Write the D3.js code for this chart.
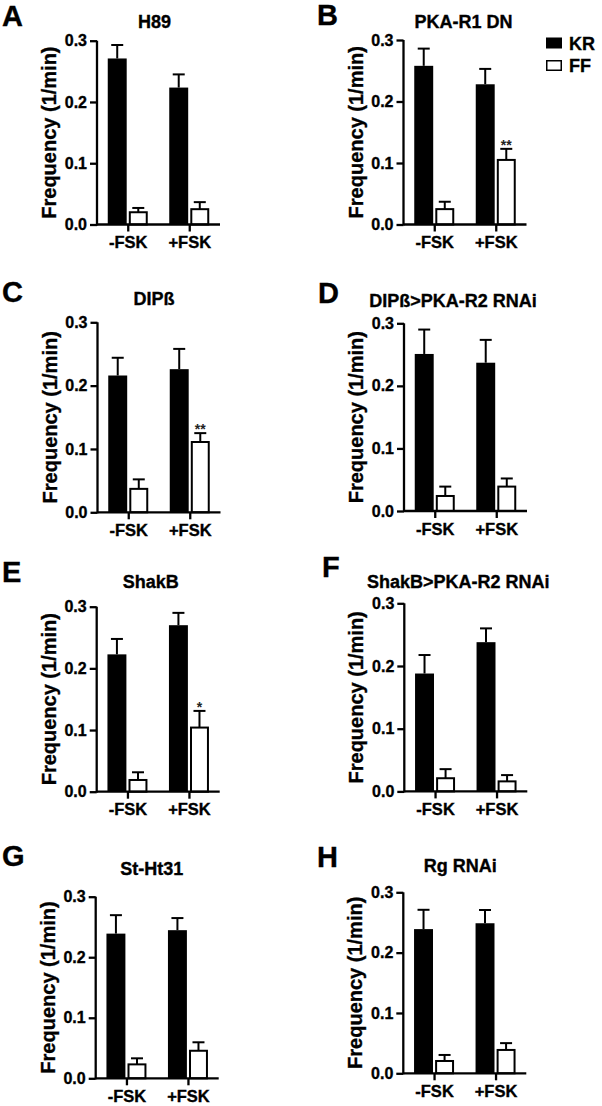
<!DOCTYPE html>
<html>
<head>
<meta charset="utf-8">
<script src="https://cdn.jsdelivr.net/npm/d3@7"></script>
<style>
  body { margin: 0; background: #fff; }
  text { font-family: "Liberation Sans", Arial, sans-serif; font-weight: bold; fill: #000; stroke: #000; stroke-width: 0.35px; }
</style>
</head>
<body>
<div class="visualization"></div>
<script>
// data
const letters = ["A", "B", "C", "D", "E", "F", "G", "H"];
const titles = ["H89", "PKA-R1 DN", "DIPß", "DIPß>PKA-R2 RNAi", "ShakB", "ShakB>PKA-R2 RNAi", "St-Ht31", "Rg RNAi"];
const conditions = ["-FSK", "+FSK"];
const genotypes = ["KR", "FF"];
const yTicks = [0, 0.1, 0.2, 0.3];

const krMean = [[0.271, 0.2235], [0.258, 0.228], [0.216, 0.226], [0.251, 0.237],
                [0.2227, 0.270], [0.188, 0.238], [0.239, 0.2447], [0.239, 0.2487]];
const krErr  = [[0.022, 0.0215], [0.028, 0.025], [0.028, 0.032], [0.039, 0.0365],
                [0.025, 0.020], [0.0295, 0.022], [0.0305, 0.020], [0.032, 0.022]];
const ffMean = [[0.020, 0.025], [0.025, 0.105], [0.037, 0.111], [0.024, 0.039],
                [0.019, 0.104], [0.021, 0.016], [0.023, 0.0455], [0.0204, 0.0387]];
const ffErr  = [[0.007, 0.0115], [0.012, 0.018], [0.015, 0.014], [0.015, 0.013],
                [0.0125, 0.027], [0.0145, 0.010], [0.010, 0.014], [0.010, 0.0113]];
// significance marks on the FF +FSK bar
const ffSig = [["", ""], ["", "**"], ["", "**"], ["", ""], ["", "*"], ["", ""], ["", ""], ["", ""]];

// panel placement (pixels)
const layout = [
  {ax: 97,    y0: 224.5,  y3: 40.7,  titleDx: 57.5, titleY: 28.3,  letterX: 2,   letterY: 26},
  {ax: 403.5, y0: 224.5,  y3: 40,    titleDx: 60,   titleY: 28.3,  letterX: 317, letterY: 25},
  {ax: 97.5,  y0: 512.3,  y3: 322.3, titleDx: 56.5, titleY: 305,   letterX: 2,   letterY: 301.5},
  {ax: 404,   y0: 511,    y3: 323.3, titleDx: 49,   titleY: 306.7, letterX: 318, letterY: 303},
  {ax: 96.7,  y0: 791.7,  y3: 606.7, titleDx: 54,   titleY: 588,   letterX: 2,   letterY: 582},
  {ax: 404.3, y0: 791.4,  y3: 603.3, titleDx: 54,   titleY: 588,   letterX: 322, letterY: 577},
  {ax: 95.7,  y0: 1078.3, y3: 896.7, titleDx: 56,   titleY: 875,   letterX: 2,   letterY: 866},
  {ax: 403.3, y0: 1073.3, y3: 892.3, titleDx: 57,   titleY: 871.7, letterX: 317, letterY: 867}
];

const width = 602;
const height = 1106;

const svg = d3.select(".visualization")
  .append("svg")
  .attr("width", width)
  .attr("height", height);

const x = d3.scalePoint().domain(conditions).range([0, 123]).padding(0.5);
const xInner = d3.scaleBand().domain(genotypes).range([-20, 20]).paddingInner(0.1);

letters.forEach((letter, i) => {
  const L = layout[i];
  const y = d3.scaleLinear().domain([0, 0.3]).range([L.y0, L.y3]);

  const g = svg.append("g").attr("transform", `translate(${L.ax},0)`);

  svg.append("text")
    .attr("x", L.letterX)
    .attr("y", L.letterY)
    .style("font-size", "29px")
    .text(letter);

  g.append("text")
    .attr("x", L.titleDx)
    .attr("y", L.titleY)
    .attr("text-anchor", "middle")
    .style("font-size", "18px")
    .text(titles[i]);

  // bars
  const rows = [];
  conditions.forEach((c, j) => {
    rows.push({cond: c, geno: "KR", mean: krMean[i][j], err: krErr[i][j], sig: ""});
    rows.push({cond: c, geno: "FF", mean: ffMean[i][j], err: ffErr[i][j], sig: ffSig[i][j]});
  });

  const bar = g.selectAll(".bar")
    .data(rows)
    .enter()
    .append("g")
    .attr("transform", d => `translate(${x(d.cond) + xInner(d.geno)},0)`);

  // error bars first so the bar outline covers the stem base
  bar.append("line")
    .attr("x1", xInner.bandwidth() / 2)
    .attr("x2", xInner.bandwidth() / 2)
    .attr("y1", d => y(d.mean))
    .attr("y2", d => y(d.mean + d.err))
    .attr("stroke", "#000")
    .attr("stroke-width", 2);
  bar.append("line")
    .attr("x1", xInner.bandwidth() / 2 - 6)
    .attr("x2", xInner.bandwidth() / 2 + 6)
    .attr("y1", d => y(d.mean + d.err))
    .attr("y2", d => y(d.mean + d.err))
    .attr("stroke", "#000")
    .attr("stroke-width", 2);

  bar.append("rect")
    .attr("x", d => d.geno === "FF" ? 1 : 0)
    .attr("width", d => d.geno === "FF" ? xInner.bandwidth() - 2 : xInner.bandwidth())
    .attr("y", d => y(d.mean))
    .attr("height", d => L.y0 - y(d.mean))
    .attr("fill", d => d.geno === "KR" ? "#000" : "#fff")
    .attr("stroke", d => d.geno === "FF" ? "#000" : "none")
    .attr("stroke-width", 2);

  bar.filter(d => d.sig)
    .append("text")
    .attr("x", xInner.bandwidth() / 2)
    .attr("y", d => y(d.mean + d.err) + 1)
    .attr("text-anchor", "middle")
    .style("font-size", "14px")
    .style("fill", "#222")
    .style("stroke", "none")
    .text(d => d.sig);

  // axes
  const yAxis = g.append("g")
    .call(d3.axisLeft(y).tickValues(yTicks).tickFormat(d3.format(".1f")).tickSize(7).tickPadding(3));
  const xAxis = g.append("g")
    .attr("transform", `translate(0,${L.y0})`)
    .call(d3.axisBottom(x).tickSize(7).tickPadding(2).tickSizeOuter(0));
  xAxis.select(".domain").attr("d", "M0,0H123");

  [yAxis, xAxis].forEach(a => {
    a.selectAll(".domain, .tick line").attr("stroke", "#000").attr("stroke-width", 2.3);
    a.selectAll("text")
      .style("font-family", "Liberation Sans, Arial, sans-serif")
      .style("font-weight", "bold")
      .attr("stroke", "#000")
      .attr("stroke-width", 0.35);
  });
  yAxis.select(".domain").attr("d", `M0,${L.y0 + 1}V${L.y3}`);
  yAxis.selectAll(".tick text").style("font-size", "16px");
  xAxis.selectAll(".tick text").style("font-size", "16.5px").attr("dy", "0.88em");

  g.append("text")
    .attr("transform", `translate(-41,${(L.y0 + L.y3) / 2}) rotate(-90)`)
    .attr("text-anchor", "middle")
    .style("font-size", "20px")
    .text("Frequency (1/min)");
});

// legend beside panel B
const legend = svg.append("g").attr("transform", "translate(546,37.5)");
const legendItem = legend.selectAll("g")
  .data(genotypes)
  .enter()
  .append("g")
  .attr("transform", (d, i) => `translate(0,${i * 22.5})`);
legendItem.append("rect")
  .attr("x", d => d === "FF" ? 0.75 : 0)
  .attr("y", d => d === "FF" ? 0.75 : 0)
  .attr("width", d => d === "FF" ? 14.5 : 16)
  .attr("height", d => d === "FF" ? 9.5 : 11)
  .attr("fill", d => d === "KR" ? "#000" : "#fff")
  .attr("stroke", d => d === "FF" ? "#000" : "none")
  .attr("stroke-width", 1.5);
legendItem.append("text")
  .attr("x", 23)
  .attr("y", 12)
  .style("font-size", "18px")
  .text(d => d);
</script>
</body>
</html>
